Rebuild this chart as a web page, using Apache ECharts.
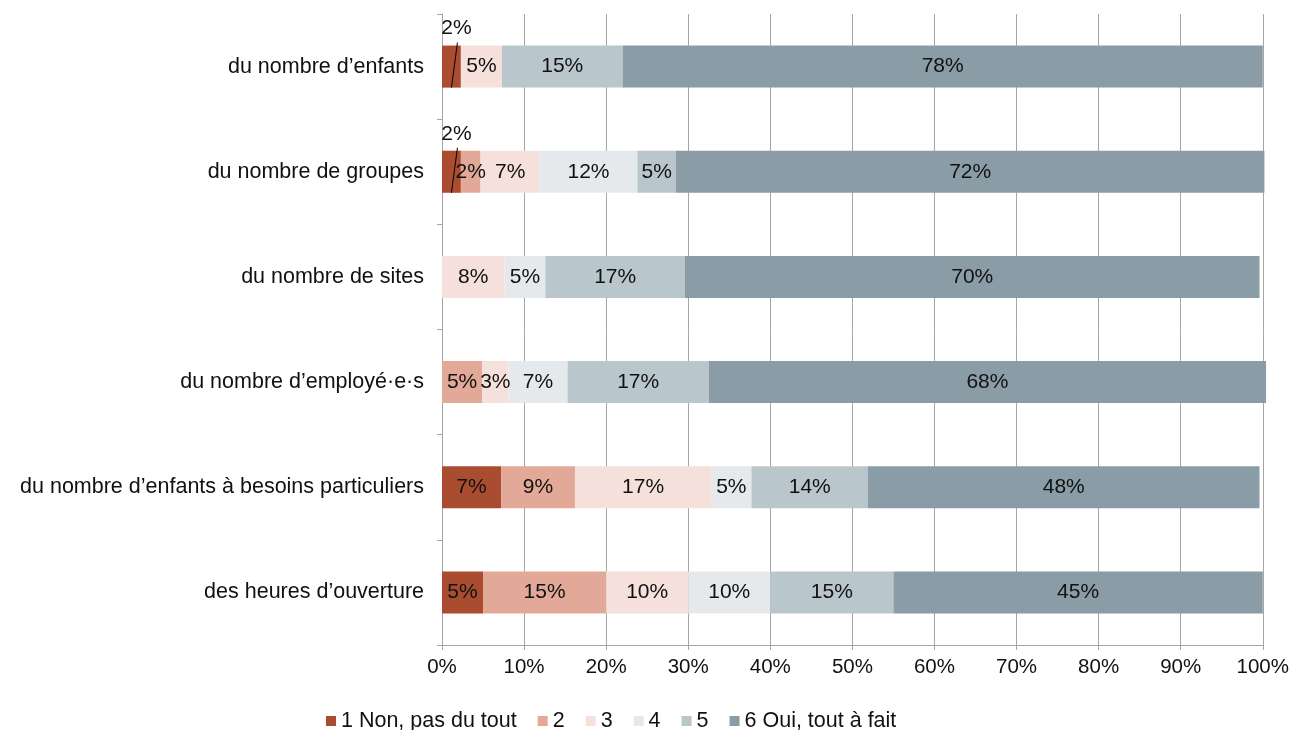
<!DOCTYPE html>
<html>
<head>
<meta charset="utf-8">
<script src="https://cdn.jsdelivr.net/npm/echarts@6/dist/echarts.min.js"></script>
<style>
  html, body { margin: 0; padding: 0; background: #fff; }
  #main { width: 1292px; height: 730px; }
</style>
</head>
<body>
<div id="main"></div>
<script>
// categories, top to bottom
var categories = [
  'du nombre d\u2019enfants',
  'du nombre de groupes',
  'du nombre de sites',
  'du nombre d\u2019employé·e·s',
  'du nombre d\u2019enfants à besoins particuliers',
  'des heures d\u2019ouverture'
];
var seriesNames = ['1 Non, pas du tout', '2', '3', '4', '5', '6 Oui, tout à fait'];
var colors = ['#a94c30', '#e2a898', '#f5e0dc', '#e6e9ec', '#b9c6cc', '#8a9ca6'];

// values in %, null = no answer in that class
var s1 = [2.3, 2.3, null, null, 7.2, 5];
var s2 = [null, 2.4, null, 4.9, 9.0, 15];
var s3 = [5.0, 7.2, 7.6, 3.2, 16.6, 10];
var s4 = [null, 11.9, 5.0, 7.2, 4.9, 10];
var s5 = [14.7, 4.7, 17.0, 17.2, 14.2, 15];
var s6 = [78.0, 71.7, 70.0, 67.9, 47.7, 45];
var xTicks = [0, 10, 20, 30, 40, 50, 60, 70, 80, 90, 100];

// rows where the first segment's label sits above the bar (leader line)
var leaderRows = [0, 1];

var font = 'Liberation Sans, Arial, sans-serif';
var chart = echarts.init(document.getElementById('main'));

var allSeries = [s1, s2, s3, s4, s5, s6].map(function (vals, si) {
  return {
    name: seriesNames[si],
    type: 'bar',
    stack: 'total',
    barWidth: '40%',
    clip: false,
    itemStyle: { color: colors[si] },
    label: {
      show: true,
      position: 'inside',
      color: '#111',
      fontFamily: font,
      fontSize: 21,
      formatter: function (p) { return Math.round(p.value) + '%'; }
    },
    labelLayout: function (p) {
      if (si === 0 && leaderRows.indexOf(p.dataIndex) >= 0) {
        return { dx: 5, dy: -38 };
      }
      return {};
    },
    data: vals.map(function (v) { return v == null ? '-' : v; })
  };
});

// leader lines for the small labels placed above the bars
allSeries.push({
  name: 'leader',
  type: 'custom',
  silent: true,
  z: 5,
  data: leaderRows.map(function (r) { return [s1[r] / 2, r]; }),
  renderItem: function (params, api) {
    var c = api.coord([api.value(0), api.value(1)]);
    var h = api.size([0, 1])[1] * 0.4;
    return {
      type: 'line',
      shape: { x1: c[0], y1: c[1] + h / 2, x2: c[0] + 6, y2: c[1] - h / 2 - 3 },
      style: { stroke: '#000', lineWidth: 1 }
    };
  }
});

var option = {
  animation: false,
  textStyle: { fontFamily: font },
  color: colors,
  grid: { left: 442, right: 28, top: 14, bottom: 85 },
  legend: {
    top: 705,
    left: 321,
    itemWidth: 10,
    itemHeight: 10,
    itemGap: 21,
    icon: 'rect',
    textStyle: { fontFamily: font, fontSize: 21.5, color: '#111' },
    data: seriesNames
  },
  xAxis: {
    type: 'value',
    min: xTicks[0],
    max: xTicks[xTicks.length - 1],
    interval: 10,
    axisLine: { show: true, lineStyle: { color: '#a6a6a6' } },
    axisTick: { show: true, length: 5, lineStyle: { color: '#a6a6a6' } },
    splitLine: { show: true, lineStyle: { color: '#a6a6a6', width: 1 } },
    axisLabel: {
      margin: 12,
      fontFamily: font,
      fontSize: 20.5,
      color: '#111',
      formatter: '{value}%'
    }
  },
  yAxis: {
    type: 'category',
    inverse: true,
    data: categories,
    axisLine: { show: true, lineStyle: { color: '#a6a6a6' } },
    axisTick: { show: true, length: 5, lineStyle: { color: '#a6a6a6' } },
    axisLabel: { margin: 18, fontFamily: font, fontSize: 21.5, color: '#111' }
  },
  series: allSeries
};

chart.setOption(option);
</script>
</body>
</html>
